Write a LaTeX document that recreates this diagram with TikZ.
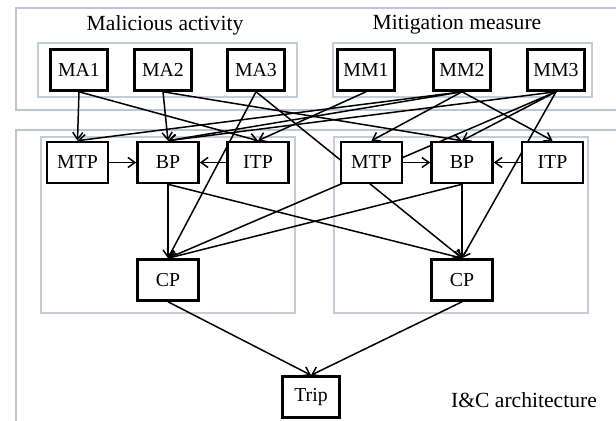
\documentclass[tikz,border=0pt]{standalone}
\usepackage{fontspec}
\setmainfont{Liberation Serif}
\usetikzlibrary{arrows.meta}
\definecolor{frame1}{HTML}{BCC5D1}
\definecolor{frame2}{HTML}{C4CCD7}
\pgfdeclarelayer{back}
\pgfsetlayers{back,main}

\begin{document}
\begin{tikzpicture}[x=0.5pt,y=-0.5pt,
  box/.style={draw, fill=white, line width=1.3pt, minimum width=28.5pt, minimum height=20.5pt, inner sep=0pt, font=\fontsize{9.9}{12}\selectfont},
  unit/.style={box, minimum width=30.5pt},
  grp/.style={draw=frame2, line width=0.75pt},
  outer/.style={draw=frame1, line width=0.75pt},
  title/.style={font=\fontsize{10.8}{12}\selectfont},
  link/.style={-{Straight Barb[length=3.5pt,width=5pt]}, line width=0.75pt}]
\useasboundingbox (0,0) rectangle (616,421);
\clip (0,0) rectangle (616,421);

% threats and countermeasures
\node[box] (ma1) at (79,70) {MA1};
\node[box] (ma2) at (163,70) {MA2};
\node[box] (ma3) at (256,70) {MA3};
\node[box] (mm1) at (366,70) {MM1};
\node[box] (mm2) at (462,70) {MM2};
\node[box] (mm3) at (556,70) {MM3};
\node[title] (tma) at (165,25) {Malicious activity};
\node[title] (tmm) at (457,25) {Mitigation measure};

% two divisions
\node[unit] (mtpL) at (77.5,162.5) {MTP};
\node[unit] (bpL) at (168,162.5) {BP};
\node[unit] (itpL) at (258,162.5) {ITP};
\node[unit] (cpL) at (168,280) {CP};
\node[unit] (mtpR) at (371.5,162.5) {MTP};
\node[unit] (bpR) at (462,162.5) {BP};
\node[unit] (itpR) at (552.5,162.5) {ITP};
\node[unit] (cpR) at (462,280) {CP};
\node[box] (trip) at (311,397) {Trip};
\node[title] (tic) at (524,400) {I\&C architecture};

\begin{pgfonlayer}{back}
\draw[outer] (16,8) rectangle (640,110);
\draw[outer] (16,130) rectangle (640,450);
\draw[grp] (38,43) rectangle (297,97);
\draw[grp] (333,43) rectangle (592,97);
\draw[grp] (41,137) rectangle (295,313);
\draw[grp] (334,137) rectangle (588,313);

\foreach \a/\b in {ma1/mtpL, ma1/itpL, ma2/bpL, ma2/bpR, ma3/cpL, ma3/cpR,
    mm1/itpL, mm2/mtpL, mm2/bpL, mm2/mtpR, mm2/itpR,
    mm3/bpL, mm3/bpR, mm3/cpL, mm3/cpR}
  \draw[link] (\a.south) -- (\b.north);
\foreach \a/\b in {mtpL/bpL, itpL/bpL, mtpR/bpR, itpR/bpR}
  \draw[link] (\a) -- (\b);
\foreach \a/\b in {bpL/cpL, bpL/cpR, bpR/cpR, bpR/cpL, cpL/trip, cpR/trip}
  \draw[link] (\a.south) -- (\b.north);
\end{pgfonlayer}
\end{tikzpicture}
\end{document}
